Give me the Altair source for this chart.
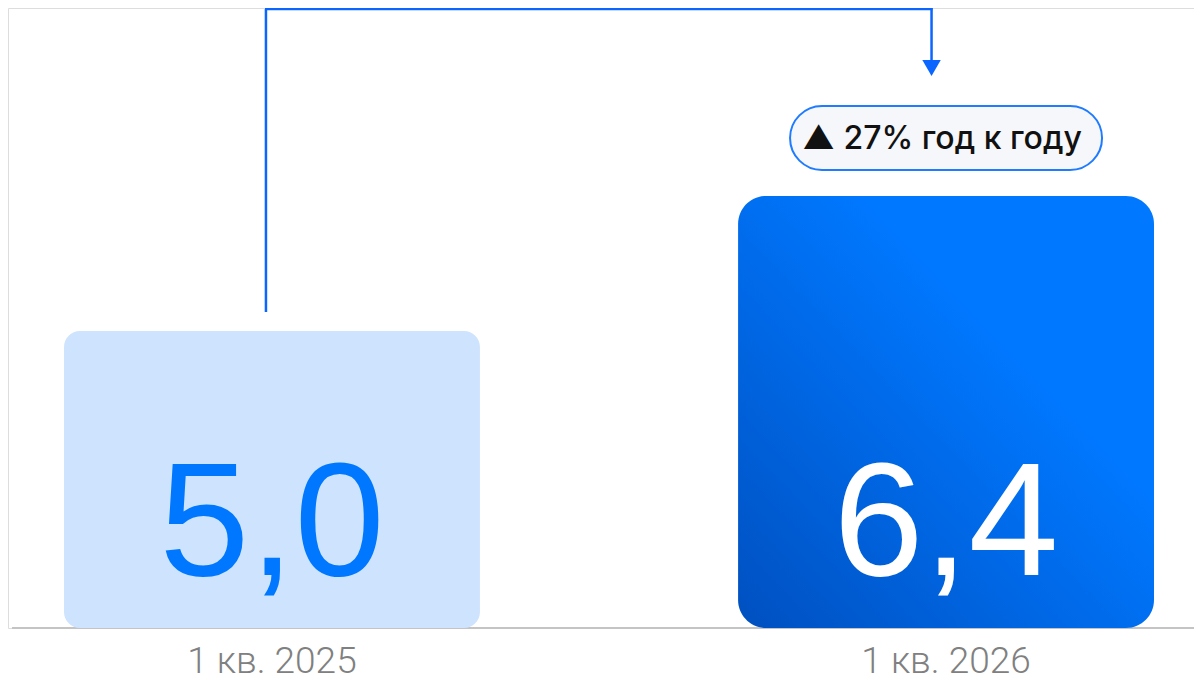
import altair as alt
import pandas as pd

categories = ["1 кв. 2025", "1 кв. 2026"]
values = [5.0, 6.4]
value_labels = ["5,0", "6,4"]
growth_label = "▲ 27% год к году"

df = pd.DataFrame({"cat": categories, "value": values, "label": value_labels})

Y_MIN, Y_MAX = 1.92, 8.35
W, H = 1186, 620

x = alt.X("cat:N", sort=categories,
          scale=alt.Scale(range=[56, 1146], paddingInner=0.383, paddingOuter=0),
          axis=alt.Axis(title=None, domain=False, ticks=False, grid=False,
                        labelFontSize=37, labelFont="Roboto", labelFontWeight=300,
                        labelColor="#808080", labelPadding=15, labelAngle=0))
y = alt.Y("value:Q", scale=alt.Scale(domain=[Y_MIN, Y_MAX], zero=False, nice=False),
          axis=None)

base = alt.Chart(df)

bar_light = base.transform_filter(alt.datum.cat == categories[0]).mark_bar(
    color="#cde3fe", cornerRadius=16
).encode(x=x, y=y, y2=alt.datum(Y_MIN))

grad = alt.Gradient(
    gradient="linear",
    stops=[alt.GradientStop(color="#0050c0", offset=0),
           alt.GradientStop(color="#0078ff", offset=0.65),
           alt.GradientStop(color="#0078ff", offset=1)],
    x1=0, y1=1, x2=1, y2=0,
)
bar_dark = base.transform_filter(alt.datum.cat == categories[1]).mark_bar(
    color=grad, cornerRadius=28
).encode(x=x, y=y, y2=alt.datum(Y_MIN))

text_light = base.transform_filter(alt.datum.cat == categories[0]).mark_text(
    font="Liberation Sans", fontSize=162, color="#0077ff", baseline="alphabetic"
).encode(x=x, y=alt.value(567), text="label:N")

text_dark = base.transform_filter(alt.datum.cat == categories[1]).mark_text(
    font="Liberation Sans", fontSize=162, color="#ffffff", baseline="alphabetic"
).encode(x=x, y=alt.value(567), text="label:N")

baseline = base.mark_rule(color="#c4c4c4", strokeWidth=2).encode(
    x=alt.value(4), x2=alt.value(W), y=alt.value(H)
)

conn_color = "#0a66ff"
left_vert = base.transform_filter(alt.datum.cat == categories[0]).mark_rule(
    color=conn_color, strokeWidth=2.5, xOffset=-6, yOffset=-19
).encode(x=x, y=y, y2=alt.value(1))

top_horiz = base.transform_filter(alt.datum.cat == categories[0]).mark_rule(
    color=conn_color, strokeWidth=2.5
).encode(x=alt.value(257), x2=alt.value(924.5), y=alt.value(1))

right_vert = base.transform_filter(alt.datum.cat == categories[1]).mark_rule(
    color=conn_color, strokeWidth=2.5, xOffset=-14.5
).encode(x=x, y=alt.value(0), y2=alt.value(54))

arrow = base.transform_filter(alt.datum.cat == categories[1]).mark_point(
    shape="triangle-down", filled=True, size=340, color=conn_color, opacity=1,
    xOffset=-14.5
).encode(x=x, y=alt.value(60))

pill = base.transform_filter(alt.datum.cat == categories[1]).mark_bar(
    width=312, cornerRadius=32, fill="#f6f7fa", stroke="#1f7bff", strokeWidth=2
).encode(x=x, y=alt.value(98), y2=alt.value(162))

pill_text = base.transform_filter(alt.datum.cat == categories[1]).mark_text(
    font="Inter", fontSize=32, fontWeight=500, color="#111111", baseline="middle",
    dx=-4
).encode(x=x, y=alt.value(131), text=alt.value(growth_label))

chart = alt.layer(
    baseline, bar_light, bar_dark, text_light, text_dark,
    left_vert, top_horiz, right_vert, arrow, pill, pill_text
).properties(
    width=W, height=H,
    autosize=alt.AutoSizeParams(type="none"),
    padding={"top": 0, "left": 0, "right": 0, "bottom": 52},
).configure_view(stroke="transparent", strokeWidth=0).configure(background="#ffffff")

chart.save("out.html", embed_options={"renderer": "svg", "actions": False})
